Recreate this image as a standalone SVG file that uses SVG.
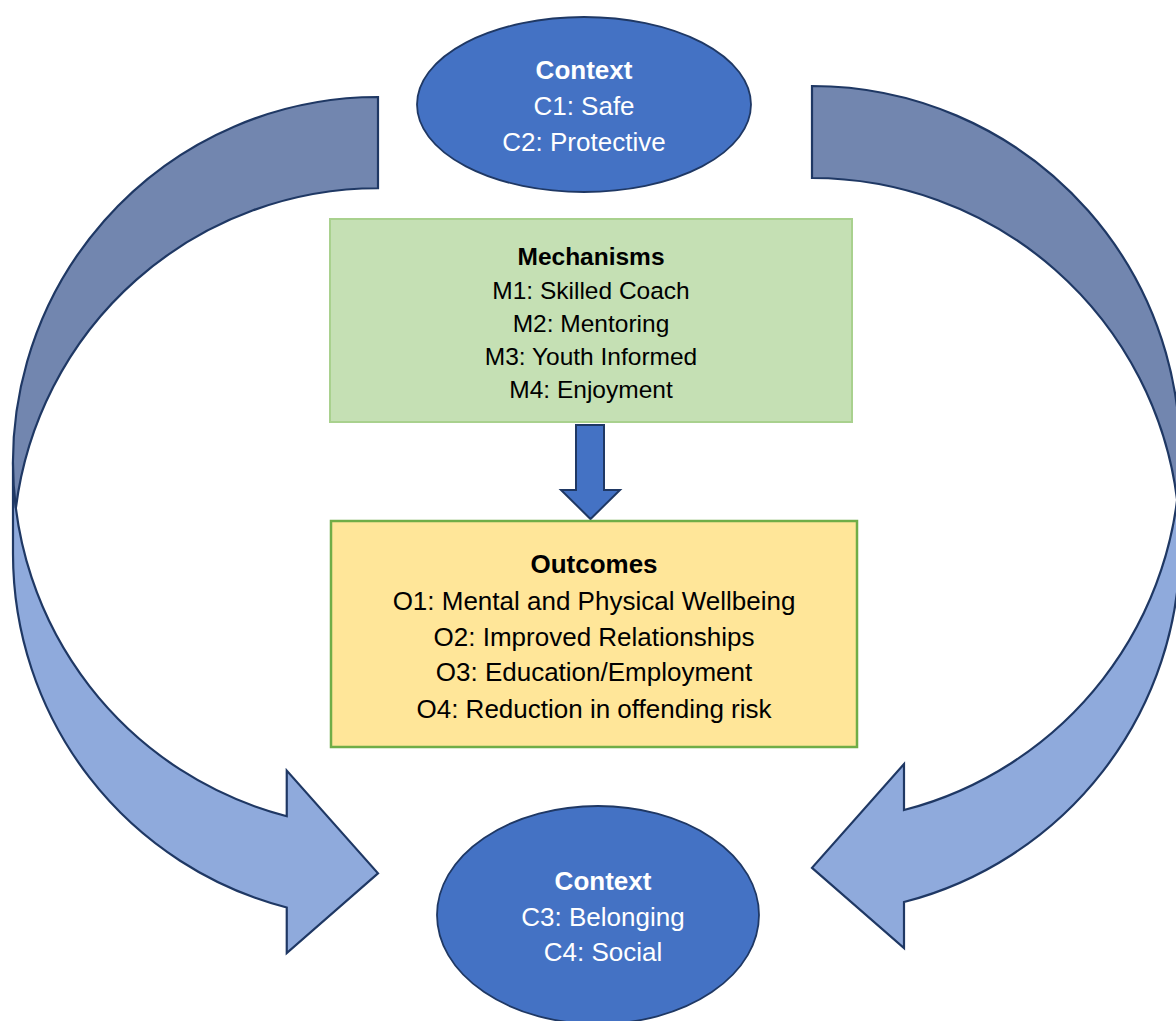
<svg xmlns="http://www.w3.org/2000/svg" width="1176" height="1021" viewBox="0 0 1176 1021">
  <style>
    .band-back { fill: #7286AF; stroke: #1F3864; stroke-width: 2.2; stroke-linejoin: miter; }
    .band-front { fill: #8FAADC; stroke: #1F3864; stroke-width: 2.2; stroke-linejoin: miter; }
    .ctx { fill: #4472C4; stroke: #1F3864; stroke-width: 1.8; }
    .mech { fill: #C5E0B4; stroke: #A9D18E; stroke-width: 2; }
    .out { fill: #FFE699; stroke: #70AD47; stroke-width: 2.5; }
    .flow { fill: #4472C4; stroke: #1F3864; stroke-width: 2; }
    text { font-family: "Liberation Sans", Arial, sans-serif; text-anchor: middle; }
    .w { fill: #FFFFFF; }
    .k { fill: #000000; }
    .b { font-weight: bold; }
    .big { font-size: 26px; }
    .mid { font-size: 24.5px; }
  </style>

  <!-- connectors: two curved return arrows and the down arrow -->
  <g id="connectors">
    <g id="loop-left">
      <path class="band-front" d="M 13 462.4 A 365 365.4 0 0 0 286.75 816.2 L 286.75 770.6 L 378 873.3 L 286.75 953.1 L 286.75 907.5 A 365 365.4 0 0 1 13 553.65 Z"/>
      <path class="band-back" d="M 378 97 A 365 365.4 0 0 0 15.86 508.03 A 365 365.4 0 0 1 378 188.25 Z"/>
    </g>
    <g id="loop-right">
      <path class="band-front" d="M 1180 453.85 A 368 367.85 0 0 1 904 810.05 L 904 764.05 L 812 867.85 L 904 948.05 L 904 902.05 A 368 367.85 0 0 0 1180 545.85 Z"/>
      <path class="band-back" d="M 812 86 A 368 367.85 0 0 1 1177.11 499.85 A 368 367.85 0 0 0 812 178 Z"/>
    </g>
    <path id="mech-to-out" class="flow" d="M 576 425 H 604 V 490 H 620 L 590.5 519 L 561 490 H 576 Z"/>
  </g>

  <g id="context-top">
    <ellipse class="ctx" cx="584" cy="104.5" rx="167" ry="87.5"/>
    <text class="w b big" x="584" y="79">Context</text>
    <text class="w big" x="584" y="115">C1: Safe</text>
    <text class="w big" x="584" y="151">C2: Protective</text>
  </g>

  <g id="mechanisms">
    <rect class="mech" x="330" y="219" width="522" height="203"/>
    <text class="k b mid" x="591" y="265">Mechanisms</text>
    <text class="k mid" x="591" y="299">M1: Skilled Coach</text>
    <text class="k mid" x="591" y="332">M2: Mentoring</text>
    <text class="k mid" x="591" y="365">M3: Youth Informed</text>
    <text class="k mid" x="591" y="398">M4: Enjoyment</text>
  </g>

  <g id="outcomes">
    <rect class="out" x="331" y="521" width="526" height="226"/>
    <text class="k b big" x="594" y="573">Outcomes</text>
    <text class="k big" x="594" y="610">O1: Mental and Physical Wellbeing</text>
    <text class="k big" x="594" y="646">O2: Improved Relationships</text>
    <text class="k big" x="594" y="681">O3: Education/Employment</text>
    <text class="k big" x="594" y="718">O4: Reduction in offending risk</text>
  </g>

  <g id="context-bottom">
    <ellipse class="ctx" cx="598" cy="915" rx="161" ry="109"/>
    <text class="w b big" x="603" y="890">Context</text>
    <text class="w big" x="603" y="926">C3: Belonging</text>
    <text class="w big" x="603" y="961">C4: Social</text>
  </g>
</svg>
